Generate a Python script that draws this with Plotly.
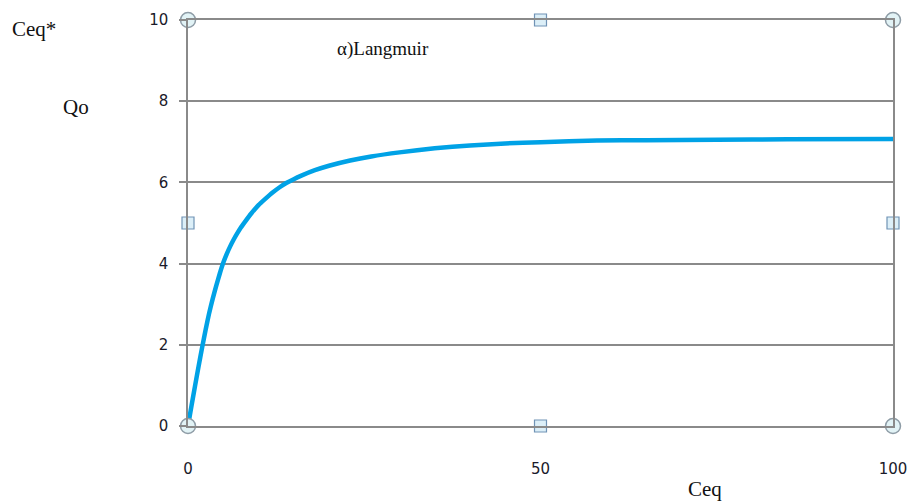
import plotly.graph_objects as go

ceq = [0, 0.5, 1, 1.5, 2, 2.5, 3, 3.5, 4, 4.5, 5, 5.5, 6, 6.5, 7, 7.5, 8, 9, 10, 11, 12, 13, 14,
       15, 16, 18, 20, 23, 26, 30, 35, 40, 45, 50, 58, 65, 75, 85, 100]
q = [0, 0.5, 0.99, 1.47, 1.93, 2.37, 2.78, 3.13, 3.45, 3.75, 4.02, 4.24, 4.43, 4.6, 4.75, 4.89,
     5.01, 5.24, 5.44, 5.6, 5.75, 5.88, 5.99, 6.08, 6.16, 6.3, 6.41, 6.54, 6.64, 6.74, 6.84,
     6.91, 6.96, 6.99, 7.03, 7.04, 7.05, 7.06, 7.07]

x_ticks = [0, 50, 100]
y_ticks = [0, 2, 4, 6, 8, 10]

# selection handles (chart-editor artifacts)
corner_x = [0, 0, 100, 100]
corner_y = [0, 10, 0, 10]
mid_x = [50, 50, 0, 100]
mid_y = [0, 10, 5, 5]

fig = go.Figure()
fig.add_trace(go.Scatter(x=ceq, y=q, mode="lines",
                         line=dict(color="#00A2E6", width=4.5, shape="spline", smoothing=0.5),
                         hoverinfo="skip"))
fig.add_trace(go.Scatter(x=corner_x, y=corner_y, mode="markers", cliponaxis=False,
                         marker=dict(symbol="circle", size=15, color="#E2F3F6",
                                     line=dict(color="#8E9CA6", width=1.5)), hoverinfo="skip"))
fig.add_trace(go.Scatter(x=mid_x, y=mid_y, mode="markers", cliponaxis=False,
                         marker=dict(symbol="square", size=12, color="#DCEFF8",
                                     line=dict(color="#7093B5", width=1.2)), hoverinfo="skip"))

serif = "Liberation Serif"
fig.add_annotation(text="Ceq*", xref="paper", yref="paper", x=-0.252, y=0.977, xanchor="left",
                   yanchor="middle", showarrow=False, font=dict(family=serif, size=21, color="#111"))
fig.add_annotation(text="Qo", xref="paper", yref="paper", x=-0.18, y=0.785, xanchor="left",
                   yanchor="middle", showarrow=False, font=dict(family=serif, size=21, color="#111"))
fig.add_annotation(text="α)Langmuir", xref="paper", yref="paper", x=0.208, y=0.928, xanchor="left",
                   yanchor="middle", showarrow=False, font=dict(family=serif, size=19, color="#111"))
fig.add_annotation(text="Ceq", xref="paper", yref="paper", x=0.733, y=-0.155, xanchor="center",
                   yanchor="middle", showarrow=False, font=dict(family=serif, size=21, color="#111"))

fig.update_layout(
    template="none",
    width=911, height=502,
    margin=dict(l=188, r=18, t=20, b=76),
    paper_bgcolor="white", plot_bgcolor="white",
    showlegend=False,
    font=dict(family="DejaVu Sans", size=15, color="#1a1a2a"),
    xaxis=dict(range=[0, 100], tickvals=x_ticks, showgrid=False, zeroline=False,
               showline=True, linecolor="#8a8a8a", linewidth=1.5, mirror=True,
               ticks="", ticklabelstandoff=28, fixedrange=True, automargin=False),
    yaxis=dict(range=[0, 10], tickvals=y_ticks, showgrid=True, gridcolor="#8a8a8a", gridwidth=1.5,
               zeroline=False, showline=True, linecolor="#8a8a8a", linewidth=1.5, mirror=True,
               ticks="outside", ticklen=7, tickcolor="#8a8a8a", tickwidth=1.5,
               ticklabelstandoff=8, fixedrange=True, automargin=False),
)

fig.write_html("out.html")
